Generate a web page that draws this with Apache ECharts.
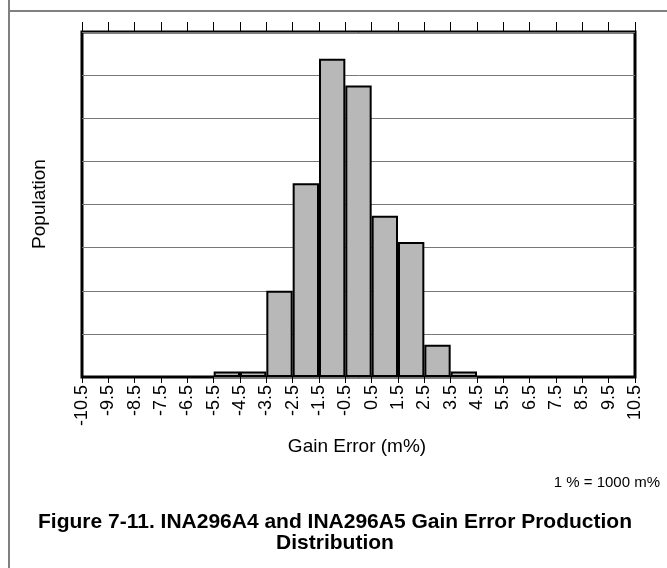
<!DOCTYPE html>
<html><head><meta charset="utf-8">
<script src="https://cdn.jsdelivr.net/npm/echarts@6/dist/echarts.min.js"></script>
<style>html,body{margin:0;padding:0;background:#fff}#c{width:667px;height:568px}</style>
</head><body><div id="c"></div>
<script>
// Tick labels at bin edges (m%)
const tickLabels = ['-10.5','-9.5','-8.5','-7.5','-6.5','-5.5','-4.5','-3.5','-2.5','-1.5','-0.5','0.5','1.5','2.5','3.5','4.5','5.5','6.5','7.5','8.5','9.5','10.5'];
// Bin centers (m%)
const binCenters = [-10,-9,-8,-7,-6,-5,-4,-3,-2,-1,0,1,2,3,4,5,6,7,8,9,10];
// Population per bin (in gridline units)
const population = [0,0,0,0,0,0.13,0.13,2.0,4.49,7.38,6.76,3.74,3.13,0.75,0.13,0,0,0,0,0,0];

const FONT = '"Liberation Sans", Arial, sans-serif';
const chart = echarts.init(document.getElementById('c'), null, {renderer:'canvas'});
chart.setOption({
  animation:false,
  backgroundColor:'#fff',
  grid:{left:82, top:32, right:32, bottom:191, show:true, borderColor:'#000', borderWidth:3, backgroundColor:'transparent'},
  xAxis:[
    {type:'category', data:binCenters, show:false, boundaryGap:true},
    {type:'value', min:0, max:tickLabels.length-1, interval:1, position:'bottom',
      axisLine:{show:false}, splitLine:{show:false},
      axisTick:{show:true, length:6, lineStyle:{color:'#000', width:1}},
      axisLabel:{show:true, rotate:90, margin:8, color:'#000', fontSize:18, fontFamily:FONT,
        formatter:v=>tickLabels[v]}},
    {type:'value', min:0, max:tickLabels.length-1, interval:1, position:'top',
      axisLine:{show:false}, splitLine:{show:false},
      axisTick:{show:true, length:10, lineStyle:{color:'#000', width:1}},
      axisLabel:{show:false}}
  ],
  yAxis:{type:'value', min:0, max:8, interval:1,
    axisLine:{show:false}, axisTick:{show:false}, axisLabel:{show:false},
    splitLine:{show:true, lineStyle:{color:'#777', width:1}}},
  series:[{type:'bar', xAxisIndex:0, yAxisIndex:0, data:population, barCategoryGap:'0%',
    itemStyle:{color:'#b8b8b8', borderColor:'#000', borderWidth:2}}],
  graphic:[
    {type:'line', shape:{x1:9,y1:0,x2:9,y2:568}, style:{stroke:'#808080', lineWidth:2}},
    {type:'line', shape:{x1:9,y1:11,x2:667,y2:11}, style:{stroke:'#808080', lineWidth:2}},
    {type:'text', x:40, y:204, rotation:Math.PI/2, style:{text:'Population', font:'19px '+FONT, fill:'#000', textAlign:'center', textVerticalAlign:'middle'}},
    {type:'text', x:357, y:447, style:{text:'Gain Error (m%)', font:'19px '+FONT, fill:'#000', textAlign:'center', textVerticalAlign:'middle'}},
    {type:'text', x:660, y:483, style:{text:'1 % = 1000 m%', font:'15px '+FONT, fill:'#000', textAlign:'right', textVerticalAlign:'middle'}},
    {type:'text', x:335, y:522, style:{text:'Figure 7-11. INA296A4 and INA296A5 Gain Error Production', font:'bold 21px '+FONT, fill:'#000', textAlign:'center', textVerticalAlign:'middle'}},
    {type:'text', x:335, y:543, style:{text:'Distribution', font:'bold 21px '+FONT, fill:'#000', textAlign:'center', textVerticalAlign:'middle'}}
  ]
});
</script></body></html>
